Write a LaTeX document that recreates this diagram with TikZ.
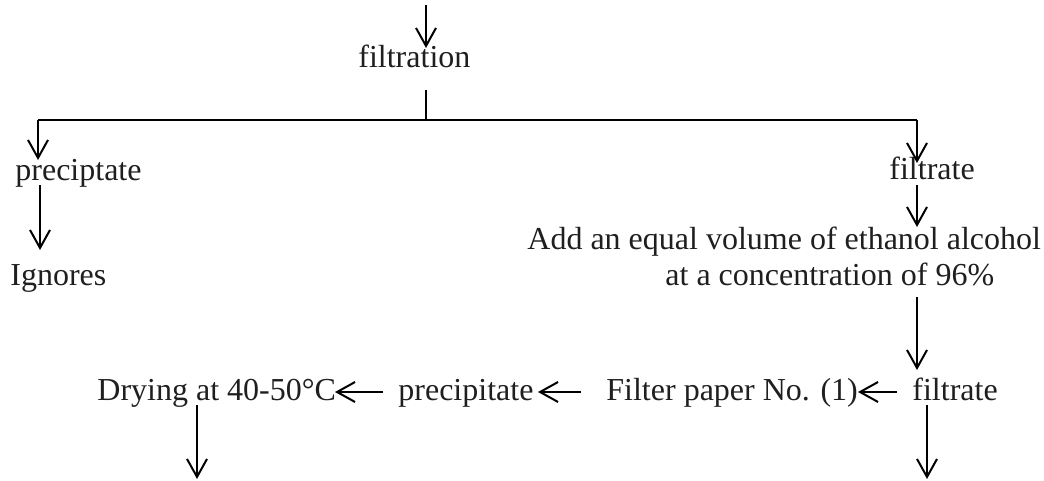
\documentclass[tikz,border=0pt]{standalone}
\usepackage{fontspec}
\setmainfont{Liberation Serif}
\usetikzlibrary{arrows.meta}
\begin{document}
\begin{tikzpicture}[x=0.5pt,y=-0.5pt,
  lbl/.style={inner sep=0pt,anchor=base west,font=\fontsize{16}{19}\selectfont,text=black!88},
  conn/.style={line width=1pt,black},
  arr/.style={conn,-{Straight Barb[length=9pt,width=10pt,line width=1pt]}}]
\useasboundingbox (0,0) rectangle (1044,481);
% text nodes
\node[lbl] (filt) at (358,68) {filtration};
\node[lbl] (prec1) at (15,180) {preciptate};
\node[lbl] (ign) at (10,285) {Ignores};
\node[lbl] (filtr1) at (889,179) {filtrate};
\node[lbl] (add1) at (527,249) {Add an equal volume of ethanol alcohol};
\node[lbl] (add2) at (665,285) {at a concentration of 96\%};
\node[lbl] (dry) at (97,400) {Drying at 40-50°C};
\node[lbl] (prec2) at (398,400) {precipitate};
\node[lbl] (paper) at (606,400) {Filter paper No. (1)};
\node[lbl] (filtr2) at (912,400) {filtrate};
% named connector ends
\coordinate (top) at (426,5);
\coordinate (ftop) at (426,48);
\coordinate (fbot) at (426,90);
\coordinate (j) at (426,120);
\coordinate (jl) at (38,120);
\coordinate (jr) at (917,120);
\coordinate (p1in) at (38,160);
\coordinate (f1in) at (917,163);
\coordinate (p1out) at (40,185);
\coordinate (ignin) at (40,250);
\coordinate (f1out) at (917,185);
\coordinate (addin) at (917,227);
\coordinate (addout) at (917,297);
\coordinate (f2in) at (917,370);
\coordinate (f2out) at (897,392);
\coordinate (paperin) at (858,392);
\coordinate (paperout) at (581,392);
\coordinate (p2in) at (538,392);
\coordinate (p2out) at (383,392);
\coordinate (dryin) at (335,392);
\coordinate (dryout) at (197,405);
\coordinate (dryend) at (197,479);
\coordinate (f2down) at (927,405);
\coordinate (f2end) at (927,479);
% connectors
\draw[arr] (top) -- (ftop);
\draw[conn] (fbot) -- (j);
\draw[conn] (jl) -- (jr);
\draw[arr] (jl) -- (p1in);
\draw[arr] (jr) -- (f1in);
\draw[arr] (p1out) -- (ignin);
\draw[arr] (f1out) -- (addin);
\draw[arr] (addout) -- (f2in);
\draw[arr] (f2out) -- (paperin);
\draw[arr] (paperout) -- (p2in);
\draw[arr] (p2out) -- (dryin);
\draw[arr] (dryout) -- (dryend);
\draw[arr] (f2down) -- (f2end);
\end{tikzpicture}
\end{document}
